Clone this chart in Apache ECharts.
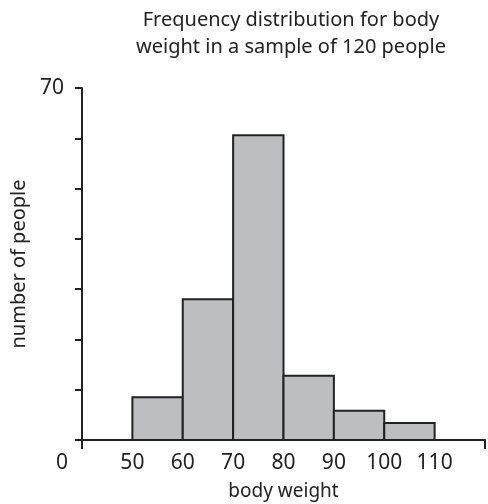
<!DOCTYPE html>
<html>
<head>
<meta charset="utf-8">
<script src="https://cdn.jsdelivr.net/npm/echarts@6/dist/echarts.min.js"></script>
<style>
  html, body { margin: 0; padding: 0; background: #fff; }
  #chart { width: 488px; height: 504px; }
</style>
</head>
<body>
<div id="chart"></div>
<script>
// class edges and counts
const binStart = [50, 60, 70, 80, 90, 100];
const binEnd = [60, 70, 80, 90, 100, 110];
const counts = [8.5, 28, 60.6, 12.8, 5.8, 3.4];
const xLabelValues = [40, 50, 60, 70, 80, 90, 100, 110];
const yLabelValues = [70];

const chart = echarts.init(document.getElementById('chart'));
const font = '"Noto Sans", sans-serif';

const option = {
    animation: false,
    title: {
        text: 'Frequency distribution for body\nweight in a sample of 120 people',
        left: 286,
        top: 2,
        textAlign: 'center',
        textStyle: {
            fontFamily: font,
            fontWeight: 'normal',
            fontSize: 20,
            lineHeight: 27,
            color: '#222'
        }
    },
    grid: {
        left: 82,
        right: 3,
        top: 88,
        bottom: 64,
        containLabel: false,
        outerBoundsMode: 'none'
    },
    xAxis: {
        type: 'value',
        min: 40,
        max: 120,
        interval: 10,
        name: 'body weight',
        nameLocation: 'middle',
        nameGap: 42,
        nameTextStyle: { fontFamily: font, fontSize: 19, color: '#222' },
        axisLine: { lineStyle: { color: '#222', width: 2 } },
        axisTick: {
            customValues: [40, 120],
            length: 9,
            lineStyle: { color: '#222', width: 2 }
        },
        axisLabel: {
            customValues: xLabelValues,
            margin: 13,
            fontFamily: font,
            fontSize: 21,
            color: '#222',
            formatter: function (v) {
                return v === 40 ? '{z|0}' : String(v);
            },
            rich: {
                z: { fontFamily: font, fontSize: 21, color: '#222', padding: [0, 40, 0, 0] }
            }
        },
        splitLine: { show: false }
    },
    yAxis: {
        type: 'value',
        min: 0,
        max: 70,
        interval: 10,
        name: 'number of people',
        nameLocation: 'middle',
        nameGap: 53,
        nameTextStyle: { fontFamily: font, fontSize: 20, color: '#222' },
        axisLine: { show: true, lineStyle: { color: '#222', width: 2 } },
        axisTick: { show: true, length: 7, lineStyle: { color: '#222', width: 2 } },
        axisLabel: {
            customValues: yLabelValues,
            margin: 18,
            fontFamily: font,
            fontSize: 21,
            color: '#222'
        },
        splitLine: { show: false }
    },
    series: [{
        type: 'custom',
        data: counts.map((c, i) => [binStart[i], binEnd[i], c]),
        encode: { x: [0, 1], y: 2 },
        renderItem: function (params, api) {
            const p0 = api.coord([api.value(0), api.value(2)]);
            const p1 = api.coord([api.value(1), 0]);
            return {
                type: 'rect',
                shape: { x: p0[0], y: p0[1], width: p1[0] - p0[0], height: p1[1] - p0[1] },
                style: { fill: '#bdbec2', stroke: '#222', lineWidth: 2 }
            };
        }
    }]
};

chart.setOption(option);
</script>
</body>
</html>
